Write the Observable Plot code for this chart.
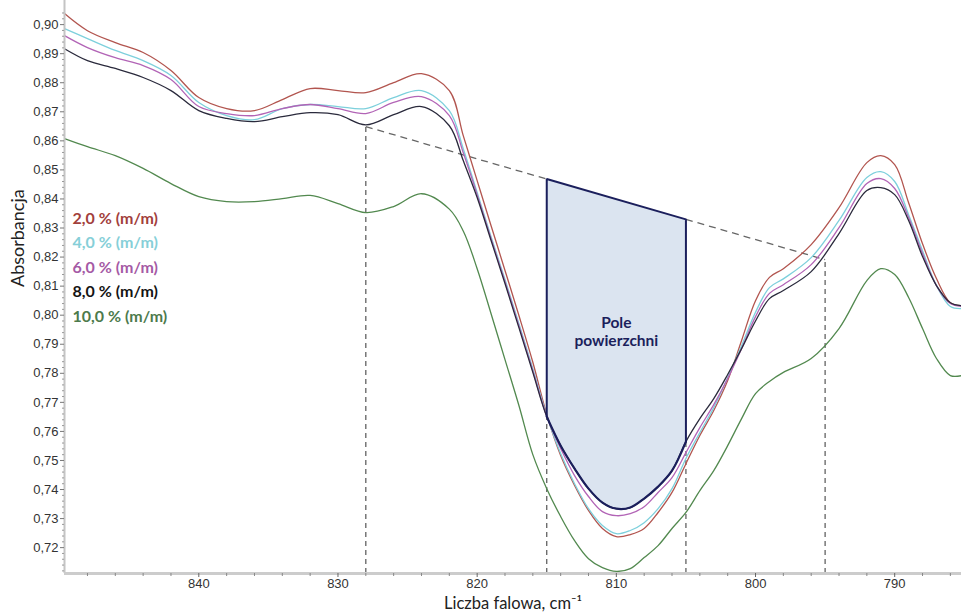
<!DOCTYPE html>
<html><head><meta charset="utf-8">
<script src="https://cdn.jsdelivr.net/npm/d3@7"></script>
<script src="https://cdn.jsdelivr.net/npm/@observablehq/plot@0.6"></script>
<style>body{margin:0;background:#fff}#chart svg{display:block}</style>
</head><body><div id="chart"></div>
<script>
// Wavenumber grid (cm-1)
const wavenumbers = [849.65,848,846,844,842,840,838,836,834,832,830,828,826,824,822,821,820,819,818,817,816,815,814,813,812,811,810,809,808,807,806,805,804,803,802,801,800,799,798,796,794,792,791,790,789,788,787,786,785.2];
// Absorbance series
const abs2 = [0.9038,0.8979,0.8938,0.8904,0.8842,0.8749,0.8711,0.8704,0.8742,0.8780,0.8773,0.8766,0.8800,0.8831,0.8773,0.8618,0.8463,0.8308,0.8154,0.7999,0.7838,0.7658,0.7517,0.7414,0.7328,0.7266,0.7238,0.7245,0.7266,0.7321,0.7390,0.7489,0.7586,0.7672,0.7775,0.7913,0.8050,0.8130,0.8160,0.8243,0.8370,0.8525,0.8549,0.8518,0.8387,0.8246,0.8126,0.8043,0.8033];
const abs4 = [0.8986,0.8952,0.8911,0.8876,0.8825,0.8732,0.8687,0.8673,0.8711,0.8725,0.8718,0.8711,0.8749,0.8773,0.8704,0.8573,0.8422,0.8270,0.8123,0.7971,0.7816,0.7654,0.7524,0.7420,0.7334,0.7276,0.7248,0.7259,0.7286,0.7334,0.7403,0.7507,0.7596,0.7682,0.7785,0.7895,0.8010,0.8095,0.8125,0.8198,0.8326,0.8474,0.8494,0.8460,0.8346,0.8222,0.8102,0.8030,0.8023];
const abs6 = [0.8962,0.8921,0.8886,0.8859,0.8811,0.8718,0.8694,0.8687,0.8711,0.8725,0.8711,0.8694,0.8732,0.8752,0.8687,0.8559,0.8415,0.8263,0.8116,0.7964,0.7809,0.7651,0.7541,0.7448,0.7376,0.7324,0.7310,0.7317,0.7341,0.7390,0.7441,0.7527,0.7613,0.7692,0.7782,0.7885,0.7995,0.8075,0.8105,0.8174,0.8301,0.8453,0.8470,0.8436,0.8336,0.8212,0.8102,0.8040,0.8030];
const abs8 = [0.8917,0.8876,0.8849,0.8818,0.8773,0.8704,0.8677,0.8666,0.8683,0.8697,0.8690,0.8655,0.8690,0.8718,0.8652,0.8532,0.8405,0.8257,0.8109,0.7957,0.7803,0.7651,0.7551,0.7472,0.7403,0.7355,0.7334,0.7338,0.7369,0.7410,0.7465,0.7565,0.7644,0.7713,0.7796,0.7885,0.7980,0.8057,0.8085,0.8150,0.8281,0.8429,0.8439,0.8415,0.8326,0.8202,0.8102,0.8043,0.8033];
const abs10 = [0.8608,0.8580,0.8549,0.8505,0.8453,0.8408,0.8391,0.8391,0.8401,0.8412,0.8384,0.8353,0.8374,0.8418,0.8365,0.8290,0.8160,0.8005,0.7847,0.7689,0.7520,0.7403,0.7307,0.7224,0.7162,0.7131,0.7118,0.7128,0.7166,0.7207,0.7266,0.7321,0.7396,0.7465,0.7551,0.7644,0.7730,0.7772,0.7803,0.7851,0.7954,0.8119,0.8160,0.8140,0.8061,0.7954,0.7851,0.7792,0.7792];

const seriesNames = ["2,0 % (m/m)","4,0 % (m/m)","6,0 % (m/m)","8,0 % (m/m)","10,0 % (m/m)"];
const seriesValues = [abs2, abs4, abs6, abs8, abs10];

const yTicks = [0.72,0.73,0.74,0.75,0.76,0.77,0.78,0.79,0.80,0.81,0.82,0.83,0.84,0.85,0.86,0.87,0.88,0.89,0.90];
const xTicks = [840,830,820,810,800,790];

// Integration baseline (tangent) and integration limits
const baselineWn = [828, 795];
const baselineAbs = [0.8649, 0.8191];
const areaLimits = [815, 805];
const areaLabel = "Pole\npowierzchni";

// ---- styling ----
const lineColors = ["#b2554f","#7dd0dc","#b264b6","#2a2a3c","#52894f"];
const legendColors = ["#a2403c","#86cfd8","#a55aa5","#141414","#4d7a4c"];
const xDomain = [849.65, 785.2];
const yDomain = [0.7111, 0.9083];

const rows = [];
seriesValues.forEach((vals, s) => vals.forEach((a, i) => rows.push({wn: wavenumbers[i], a, s})));

const baseAt = w => baselineAbs[0] + (w - baselineWn[0]) * (baselineAbs[1] - baselineAbs[0]) / (baselineWn[1] - baselineWn[0]);
const refSeries = 3; // 8,0 % curve bounds the area
const poly = wavenumbers.map((w, i) => ({wn: w, a: seriesValues[refSeries][i]}))
  .filter(d => d.wn <= areaLimits[0] && d.wn >= areaLimits[1]);
const polyLeft = poly[0], polyRight = poly[poly.length - 1];
const polyTop = [
  {wn: polyLeft.wn, a: polyLeft.a},
  {wn: polyLeft.wn, a: baseAt(polyLeft.wn)},
  {wn: polyRight.wn, a: baseAt(polyRight.wn)},
  {wn: polyRight.wn, a: polyRight.a}
];
const baseSegs = [
  {x1: baselineWn[0], x2: areaLimits[0]},
  {x1: areaLimits[1], x2: baselineWn[1]}
];
const verticals = [
  {wn: baselineWn[0], top: baseAt(baselineWn[0])},
  {wn: polyLeft.wn, top: polyLeft.a},
  {wn: polyRight.wn, top: polyRight.a},
  {wn: baselineWn[1], top: baseAt(baselineWn[1])}
];
const labelPos = [{wn: (areaLimits[0] + areaLimits[1]) / 2,
  a: (baseAt((areaLimits[0] + areaLimits[1]) / 2) + d3.min(poly, d => d.a)) / 2}];

const minorX = d3.range(786, 850, 2).filter(v => v % 10 !== 0);
const minorY = d3.range(712, 905, 2).map(v => v / 1000).filter(v => Math.round(v * 1000) % 10 !== 0);
const fmt = d => d.toFixed(2).replace(".", ",");

const legendMarks = seriesNames.map((n, i) => Plot.text([n], {
  text: d => d, frameAnchor: "top-left", dx: 8, dy: 212 + i * 24.5, textAnchor: "start",
  fill: legendColors[i], fontSize: 16, fontWeight: "bold", fontFamily: "Lato"
}));

const chart = Plot.plot({
  width: 961, height: 614,
  marginLeft: 64, marginRight: 0, marginTop: 0, marginBottom: 41,
  style: {fontFamily: "Liberation Sans, Arial, sans-serif", background: "#fff"},
  x: {domain: xDomain, axis: null},
  y: {domain: yDomain, axis: null},
  marks: [
    Plot.areaY(poly, {x: "wn", y1: "a", y2: d => baseAt(d.wn), fill: "#dbe4f0", curve: "catmull-rom"}),
    Plot.link(baseSegs, {x1: "x1", x2: "x2", y1: d => baseAt(d.x1), y2: d => baseAt(d.x2), stroke: "#666", strokeWidth: 1.3, strokeDasharray: "7,5"}),
    Plot.ruleX(verticals, {x: "wn", y1: yDomain[0], y2: "top", stroke: "#555", strokeWidth: 1.2, strokeDasharray: "5,4"}),
    Plot.line(rows, {x: "wn", y: "a", z: "s", stroke: d => lineColors[d.s], strokeWidth: 1.3, curve: "catmull-rom", clip: true}),
    Plot.line(poly, {x: "wn", y: "a", stroke: "#1b1f5c", strokeWidth: 2.2, curve: "catmull-rom"}),
    Plot.line(polyTop, {x: "wn", y: "a", stroke: "#1b1f5c", strokeWidth: 2, strokeLinejoin: "miter"}),
    Plot.text(labelPos, {x: "wn", y: "a", text: () => areaLabel, dy: -23, fontSize: 15.5, fontWeight: "bold", fill: "#1b1f5c", fontFamily: "Lato", lineHeight: 1.15}),
    // axis lines
    Plot.ruleX([xDomain[0]], {stroke: "#c4c4c4", strokeWidth: 2}),
    Plot.ruleY([yDomain[0]], {stroke: "#cccccc", strokeWidth: 3}),
    Plot.axisY(minorY, {tickSize: 2, tickFormat: () => "", stroke: "#999", label: null}),
    Plot.axisY(yTicks, {tickSize: 4, tickPadding: 2, tickFormat: fmt, fontSize: 13, fill: "#333", stroke: "#777", label: null}),
    Plot.axisX(minorX, {tickSize: 3, tickFormat: () => "", stroke: "#888", label: null}),
    Plot.axisX(xTicks, {tickSize: 4, tickPadding: 1, fontSize: 13, fill: "#333", stroke: "#666", label: null}),
    Plot.text(["Absorbancja"], {text: d => d, frameAnchor: "left", dx: -46, rotate: -90, fontSize: 18, fill: "#222", fontFamily: "Lato"}),
    Plot.text(["Liczba falowa, cm\u207B\u00B9"], {text: d => d, frameAnchor: "bottom", dy: 35, fontSize: 16.5, fill: "#222", fontFamily: "Lato"}),
    ...legendMarks
  ]
});
document.getElementById("chart").appendChild(chart);
</script>
</body></html>
